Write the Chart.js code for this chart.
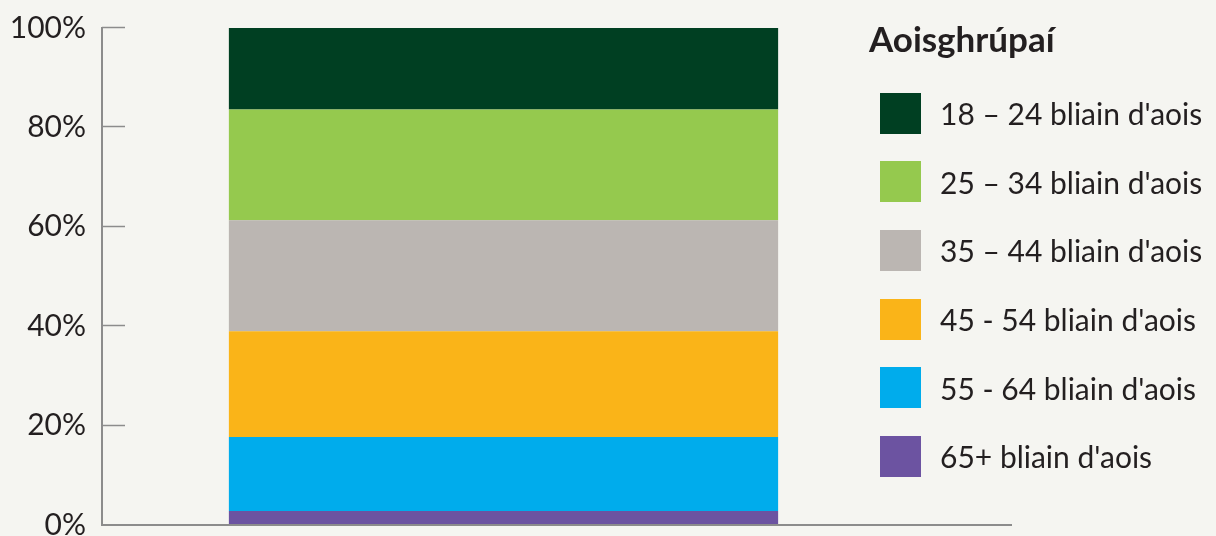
<!DOCTYPE html>
<html>
<head>
<meta charset="utf-8">
<script src="https://cdn.jsdelivr.net/npm/chart.js@4.4.0/dist/chart.umd.min.js"></script>
<style>
  html, body { margin: 0; padding: 0; background: #f5f5f1; overflow: hidden; }
  #wrap { position: relative; width: 1216px; height: 536px; overflow: hidden; }
  #legend { position: absolute; left: 869px; top: 15px; font-family: Lato, sans-serif; color: #231f20; }
  #legend h3 { margin: 0; font-size: 35px; font-weight: 700; line-height: 46px; }
  #legend ul { list-style: none; margin: 18px 0 0 0; padding: 0 0 0 11px; }
  #legend li { display: flex; align-items: center; height: 68.6px; font-size: 30px; }
  #legend li span.box { width: 41px; height: 41px; margin-right: 19px; flex: none; }
</style>
</head>
<body>
<div id="wrap">
  <canvas id="ageChart" width="1216" height="536"></canvas>
  <div id="legend"></div>
</div>
<script>
const legendTitle = 'Aoisghrúpaí';
const ageGroups = [
    "18 – 24 bliain d'aois",
    "25 – 34 bliain d'aois",
    "35 – 44 bliain d'aois",
    "45 - 54 bliain d'aois",
    "55 - 64 bliain d'aois",
    "65+ bliain d'aois"
];
const shares = [16.4, 22.3, 22.3, 21.3, 14.9, 2.8];
const groupColors = ['#003f22', '#95c94e', '#bbb6b2', '#fab418', '#00acec', '#6c53a1'];
const yTicks = [0, 20, 40, 60, 80, 100];

const axisColor = '#8c8c8c';

// bottom of the stack is the last group, so build datasets in reverse
const datasets = [];
for (let i = ageGroups.length - 1; i >= 0; i--) {
    datasets.push({
        label: ageGroups[i],
        data: [shares[i]],
        backgroundColor: groupColors[i],
        borderWidth: 0,
        barPercentage: 0.684,
        categoryPercentage: 1
    });
}

// axis lines with tick marks pointing into the plot
const axisPlugin = {
    id: 'axisLines',
    afterDatasetsDraw(chart) {
        const ctx = chart.ctx;
        const area = chart.chartArea;
        const yScale = chart.scales.y;
        ctx.save();
        ctx.strokeStyle = axisColor;
        ctx.lineWidth = 2;
        ctx.beginPath();
        ctx.moveTo(area.left, area.top - 1);
        ctx.lineTo(area.left, area.bottom);
        ctx.lineTo(area.right + 107, area.bottom);
        ctx.stroke();
        ctx.lineWidth = 1.5;
        for (const t of yTicks) {
            if (t === 0) continue;
            const y = Math.round(yScale.getPixelForValue(t)) - 0.5;
            ctx.beginPath();
            ctx.moveTo(area.left, y);
            ctx.lineTo(area.left + 23, y);
            ctx.stroke();
        }
        ctx.restore();
    }
};

const chart = new Chart(document.getElementById('ageChart'), {
    type: 'bar',
    data: {
        labels: [''],
        datasets: datasets
    },
    options: {
        responsive: false,
        animation: false,
        layout: { padding: { top: 0, right: 311, bottom: 0, left: 0 } },
        plugins: {
            legend: { display: false },
            tooltip: { enabled: false }
        },
        scales: {
            x: {
                stacked: true,
                display: false
            },
            y: {
                stacked: true,
                min: 0,
                max: 100,
                afterBuildTicks(scale) {
                    scale.ticks = yTicks.map(v => ({ value: v }));
                },
                afterFit(scale) {
                    scale.width = 102;
                    scale.paddingTop = 28;
                    scale.paddingBottom = 11;
                },
                grid: { display: false, drawTicks: false },
                border: { display: false },
                ticks: {
                    padding: 16,
                    color: '#231f20',
                    font: { family: 'Lato', size: 30 },
                    callback: v => v + '%'
                }
            }
        }
    },
    plugins: [axisPlugin]
});

// legend built from the same arrays
const legendEl = document.getElementById('legend');
let html = '<h3>' + legendTitle + '</h3><ul>';
ageGroups.forEach((g, i) => {
    html += '<li><span class="box" style="background:' + groupColors[i] + '"></span>' + g + '</li>';
});
html += '</ul>';
legendEl.innerHTML = html;
</script>
</body>
</html>
